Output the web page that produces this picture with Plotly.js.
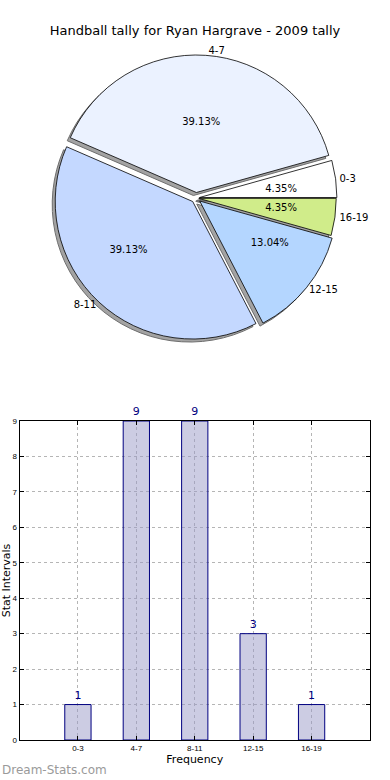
<!DOCTYPE html>
<html>
<head>
<meta charset="utf-8">
<script src="https://cdn.plot.ly/plotly-3.0.1.min.js"></script>
<style>html,body{margin:0;padding:0;background:#fff;}#chart{width:390px;height:780px;}</style>
</head>
<body>
<div id="chart"></div>
<script>
// ---- data ----
const categories = ['0-3', '4-7', '8-11', '12-15', '16-19'];
const counts = [1, 9, 9, 3, 1];
const sliceColors = ['#ffffff', '#ebf2ff', '#c4d8ff', '#b4d6ff', '#d0ec8a'];
const explode = [0.025, 0.04, 0.035, 0.035, 0.02];
const chartTitle = 'Handball tally for Ryan Hargrave - 2009 tally';
const yTicks = [0, 1, 2, 3, 4, 5, 6, 7, 8, 9];

// ---- geometry helpers (layout only) ----
const W = 390, H = 780;
const total = counts.reduce((a, b) => a + b, 0);
const rot = 90 - 360 * counts[0] / total;
const cx = 196, cy = 198;
function dom(half, dx, dy) {
  dx = dx || 0; dy = dy || 0;
  return {
    x: [(cx + dx - half) / W, (cx + dx + half) / W],
    y: [1 - (cy + dy + half) / H, 1 - (cy + dy - half) / H]
  };
}
const mainHalf = 143;
const font = 'DejaVu Sans, sans-serif';

const common = {
  type: 'pie', labels: categories, values: counts, sort: false,
  direction: 'counterclockwise', rotation: rot, showlegend: false, hoverinfo: 'skip'
};

const shadow = Object.assign({}, common, {
  domain: dom(mainHalf, -3, 3), pull: explode,
  marker: {colors: categories.map(() => '#a3a3a3'), line: {color: '#6e6e6e', width: 1}},
  textinfo: 'none'
});
const main = Object.assign({}, common, {
  domain: dom(mainHalf), pull: explode,
  marker: {colors: sliceColors, line: {color: '#000', width: 0.8}},
  texttemplate: '%{percent:.2%}',
  textposition: ['none', 'inside', 'none', 'none', 'none'],
  insidetextorientation: 'horizontal',
  textfont: {family: font, size: 10, color: '#000'},
  insidetextfont: {family: font, size: 10, color: '#000'}
});
const pctSmall = Object.assign({}, common, {
  domain: dom(67),
  marker: {colors: categories.map(() => 'rgba(0,0,0,0)'), line: {width: 0}},
  texttemplate: '%{percent:.2%}',
  textposition: ['outside', 'none', 'outside', 'outside', 'outside'],
  outsidetextfont: {family: font, size: 10, color: '#000'},
  textfont: {family: font, size: 10, color: '#000'}
});
const labelPie = Object.assign({}, common, {
  domain: dom(142),
  marker: {colors: categories.map(() => 'rgba(0,0,0,0)'), line: {width: 0}},
  textinfo: 'label', textposition: 'outside',
  outsidetextfont: {family: font, size: 10, color: '#000'},
  textfont: {family: font, size: 10, color: '#000'}
});

const bars = {
  type: 'bar', x: categories, y: counts, width: 0.45,
  xaxis: 'x', yaxis: 'y',
  marker: {color: 'rgba(153,153,199,0.5)', line: {color: '#000080', width: 1}},
  text: counts.map(String), textposition: 'outside', cliponaxis: false,
  textfont: {family: font, size: 11, color: '#000080'},
  hoverinfo: 'skip', showlegend: false
};

const layout = {
  width: W, height: H,
  margin: {l: 0, r: 0, t: 0, b: 0},
  paper_bgcolor: '#fff', plot_bgcolor: '#fff',
  font: {family: font, color: '#000'},
  title: {text: chartTitle, x: 0.5, xanchor: 'center', yref: 'container', y: 1 - 30 / H, yanchor: 'middle',
          font: {family: font, size: 13, color: '#000'}},
  xaxis: {
    domain: [19.5 / W, 370 / W], anchor: 'y', type: 'category', range: [-1, 5],
    showline: true, linecolor: '#000', linewidth: 1, mirror: 'ticks',
    ticks: 'inside', ticklen: 4, tickcolor: '#000',
    showgrid: true, gridcolor: '#b5b5b5', griddash: 'dot', gridwidth: 1,
    tickfont: {family: 'Liberation Sans Narrow, Liberation Sans, sans-serif', size: 8, color: '#000'},
    title: {text: 'Frequency', font: {family: font, size: 11, color: '#000'}, standoff: 3},
    zeroline: false, fixedrange: true
  },
  yaxis: {
    domain: [1 - 740 / H, 1 - 421 / H], anchor: 'x', range: [0, 9],
    tickvals: yTicks, ticktext: yTicks.map(String),
    showline: true, linecolor: '#000', linewidth: 1, mirror: 'ticks',
    ticks: 'inside', ticklen: 4, tickcolor: '#000',
    showgrid: true, gridcolor: '#b5b5b5', griddash: 'dot', gridwidth: 1,
    tickfont: {family: 'Liberation Sans Narrow, Liberation Sans, sans-serif', size: 8, color: '#000'},
    title: {text: 'Stat Intervals', font: {family: font, size: 11, color: '#000'}, standoff: 2},
    zeroline: false, fixedrange: true
  },
  annotations: [{
    text: 'Dream-Stats.com', xref: 'paper', yref: 'paper', x: 0, y: 1 - 770 / H,
    xanchor: 'left', yanchor: 'middle', showarrow: false,
    font: {family: font, size: 12, color: '#9a9a9a'}
  }]
};

Plotly.newPlot('chart', [shadow, main, pctSmall, labelPie, bars], layout, {displayModeBar: false, staticPlot: true});
</script>
</body>
</html>
